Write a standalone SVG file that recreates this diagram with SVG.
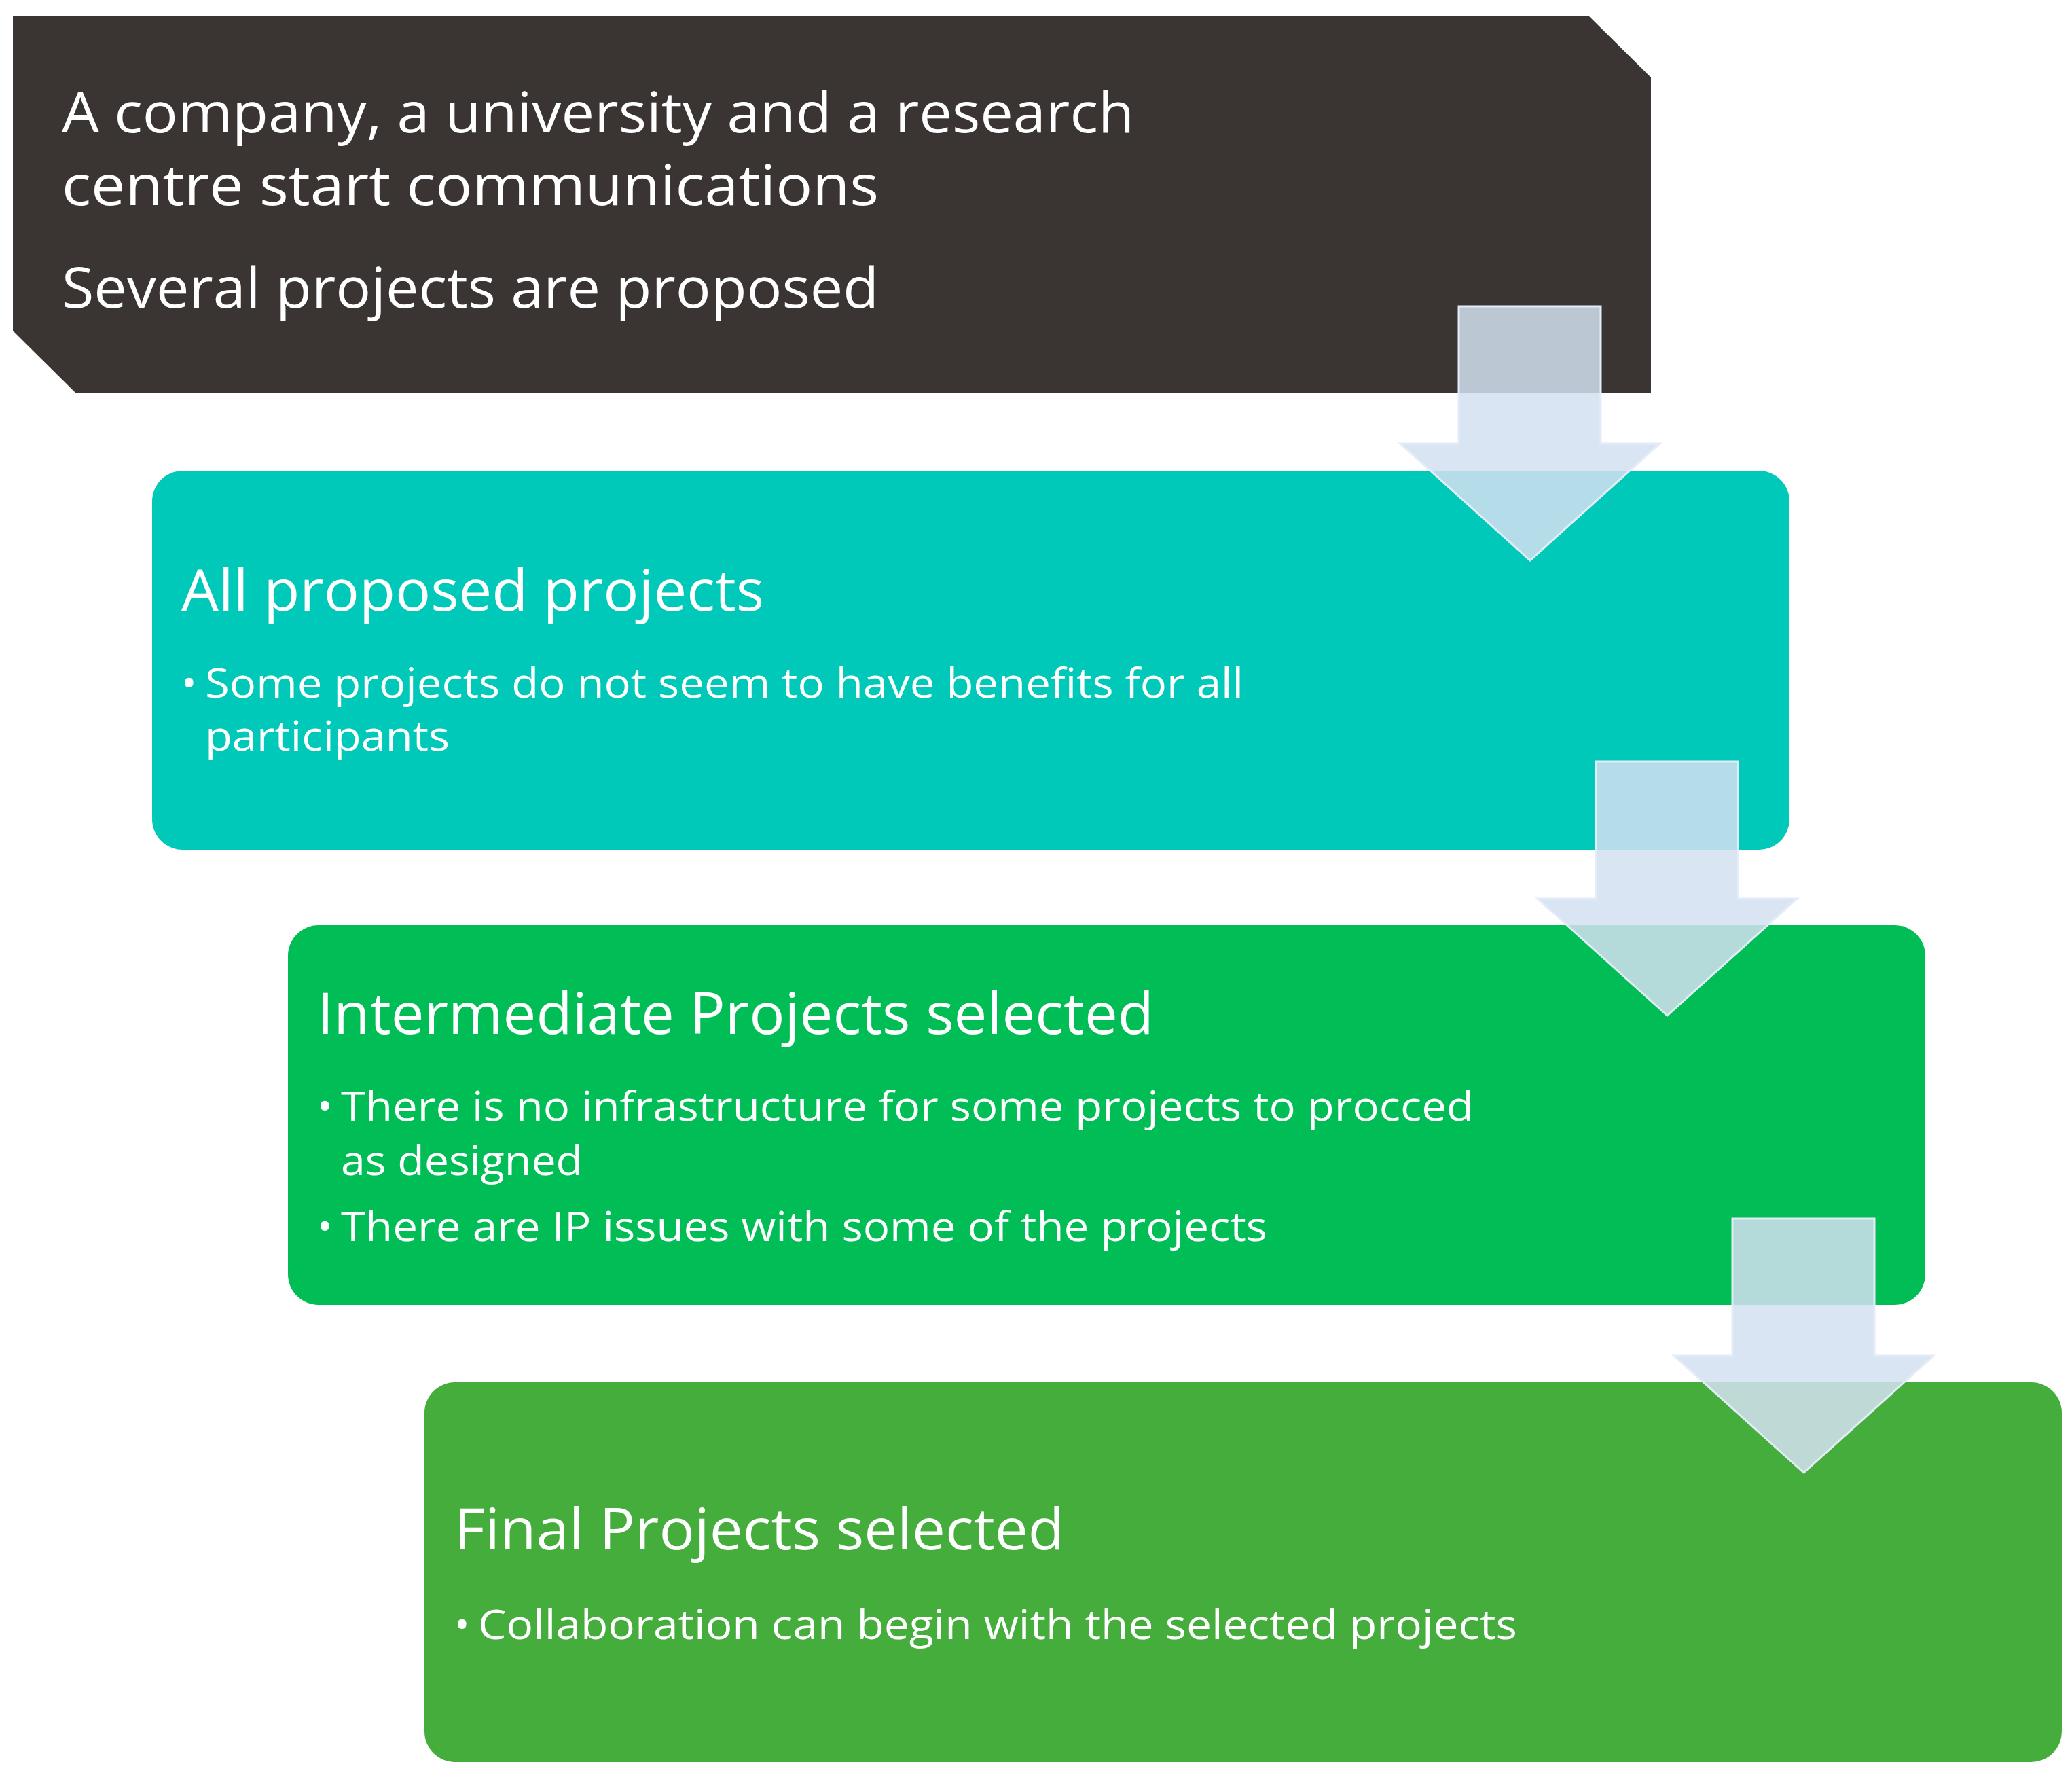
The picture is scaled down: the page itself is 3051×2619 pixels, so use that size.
<svg xmlns="http://www.w3.org/2000/svg" width="3051" height="2619" viewBox="0 0 3051 2619">
<style>
text{font-family:"Open Sans","Noto Sans","Liberation Sans",sans-serif;fill:#fff}
.h{font-size:82px}
.t{font-size:84px}
.b{font-size:60px}
.arr{fill:#d4e0f1;fill-opacity:0.85;stroke:#e4ecf7;stroke-width:3}
</style>
<rect width="3051" height="2619" fill="#fff"/>
<g id="n1">
<path d="M19 23 H2339 L2431 114 V578 H111 L19 487 Z" fill="#3a3533"/>
<text class="h" x="91" y="195" textLength="1579" lengthAdjust="spacingAndGlyphs">A company, a university and a research</text>
<text class="h" x="91" y="302" textLength="1203" lengthAdjust="spacingAndGlyphs">centre start communications</text>
<text class="h" x="91" y="453" textLength="1203" lengthAdjust="spacingAndGlyphs">Several projects are proposed</text>
</g>
<g id="n2">
<rect x="224" y="693" width="2411" height="558" rx="45" fill="#00c9b9"/>
<text class="t" x="267" y="899" textLength="858" lengthAdjust="spacingAndGlyphs">All proposed projects</text>
<text class="b" x="267" y="1027">•</text>
<text class="b" x="302" y="1027" textLength="1529" lengthAdjust="spacingAndGlyphs">Some projects do not seem to have benefits for all</text>
<text class="b" x="302" y="1105" textLength="360" lengthAdjust="spacingAndGlyphs">participants</text>
</g>
<g id="n3">
<rect x="424" y="1362" width="2411" height="559" rx="45" fill="#00be55"/>
<text class="t" x="467" y="1522" textLength="1232" lengthAdjust="spacingAndGlyphs">Intermediate Projects selected</text>
<text class="b" x="467" y="1650">•</text>
<text class="b" x="502" y="1650" textLength="1668" lengthAdjust="spacingAndGlyphs">There is no infrastructure for some projects to procced</text>
<text class="b" x="502" y="1730" textLength="356" lengthAdjust="spacingAndGlyphs">as designed</text>
<text class="b" x="467" y="1827">•</text>
<text class="b" x="502" y="1827" textLength="1364" lengthAdjust="spacingAndGlyphs">There are IP issues with some of the projects</text>
</g>
<g id="n4">
<rect x="625" y="2035" width="2411" height="559" rx="45" fill="#45ad3c"/>
<text class="t" x="669" y="2281" textLength="898" lengthAdjust="spacingAndGlyphs">Final Projects selected</text>
<text class="b" x="669" y="2413">•</text>
<text class="b" x="704" y="2413" textLength="1530" lengthAdjust="spacingAndGlyphs">Collaboration can begin with the selected projects</text>
</g>
<g id="connectors">
<path class="arr" d="M2148 451 H2357 V653 H2444 L2253 825 L2062 653 H2148 Z"/>
<path class="arr" transform="translate(202,670)" d="M2148 451 H2357 V653 H2444 L2253 825 L2062 653 H2148 Z"/>
<path class="arr" transform="translate(403,1343)" d="M2148 451 H2357 V653 H2444 L2253 825 L2062 653 H2148 Z"/>
</g>
</svg>
